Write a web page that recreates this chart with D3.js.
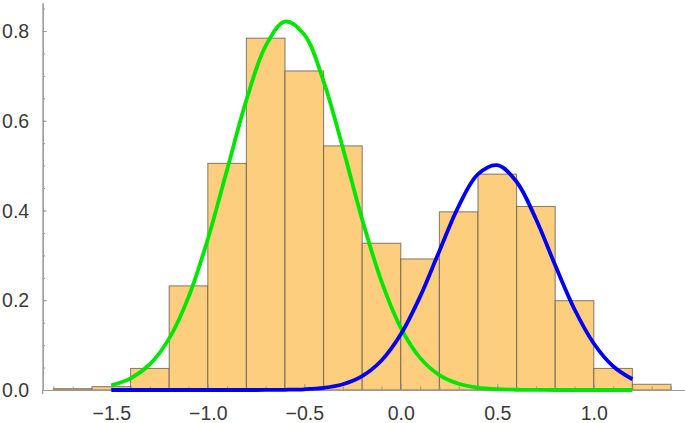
<!DOCTYPE html>
<html>
<head>
<meta charset="utf-8">
<script src="https://cdn.jsdelivr.net/npm/d3@7"></script>
<style>
  body { margin: 0; background: #fff; }
  .tick text { font-family: "Liberation Sans", Arial, sans-serif; font-size: 19.5px; fill: #3a3a3a; }
</style>
</head>
<body>
<div id="chart"></div>
<script>
// histogram bins (left edge, width 0.2) and heights
var binStart = [-1.8, -1.6, -1.4, -1.2, -1.0, -0.8, -0.6, -0.4, -0.2, 0.0, 0.2, 0.4, 0.6, 0.8, 1.0, 1.2];
var binHeight = [0.003, 0.0075, 0.048, 0.232, 0.505, 0.784, 0.711, 0.544, 0.327, 0.292, 0.397, 0.481, 0.409, 0.199, 0.048, 0.0127];
var binWidth = 0.2;

// curve samples
var curveX = [-1.5, -1.4, -1.3, -1.2, -1.1, -1.0, -0.9, -0.8, -0.7, -0.6, -0.5, -0.4, -0.3, -0.2, -0.1,
  0.0, 0.1, 0.2, 0.3, 0.4, 0.5, 0.6, 0.7, 0.8, 0.9, 1.0, 1.1, 1.2];
var greenY = [0.0105, 0.026, 0.0575, 0.115, 0.207, 0.336, 0.491, 0.646, 0.767, 0.821, 0.792, 0.688, 0.539, 0.380, 0.242,
  0.1385, 0.0716, 0.0333, 0.014, 0.0053, 0.0018, 0.0006, 0.0002, 0, 0, 0, 0, 0];
var blueY = [0, 0, 0, 0, 0, 0, 0, 0, 0.0001, 0.0005, 0.0016, 0.0048, 0.0129, 0.0308, 0.0656,
  0.124, 0.208, 0.310, 0.410, 0.481, 0.501, 0.464, 0.381, 0.278, 0.180, 0.1037, 0.053, 0.024];

var xMajor = [-1.5, -1.0, -0.5, 0.0, 0.5, 1.0];
var xMinor = d3.range(-18, 15).map(function(i) { return i / 10; });
var yMajor = [0.0, 0.2, 0.4, 0.6, 0.8];
var yMinor = d3.range(0, 18).map(function(i) { return i * 0.05; });

var width = 685;
var height = 423;

var svg = d3.select("#chart")
  .append("svg")
  .attr("width", width)
  .attr("height", height);

var xScale = d3.scaleLinear()
  .domain([-1.8554, 1.4725])
  .range([42.7, 685]);

var yScale = d3.scaleLinear()
  .domain([0, 0.8624])
  .range([390, 3]);

// bars
svg.append("g")
  .selectAll("rect")
  .data(binStart)
  .enter()
  .append("rect")
  .attr("x", function(d) { return xScale(d); })
  .attr("y", function(d, i) { return yScale(binHeight[i]); })
  .attr("width", function(d) { return xScale(d + binWidth) - xScale(d); })
  .attr("height", function(d, i) { return yScale(0) - yScale(binHeight[i]); })
  .attr("fill", "#fcce7e")
  .attr("stroke", "#5e564d")
  .attr("stroke-opacity", 0.7)
  .attr("stroke-width", 1.1);

// axes
var xAxis = d3.axisBottom(xScale)
  .tickValues(xMajor)
  .tickFormat(d3.format(".1f"))
  .tickSizeInner(-6)
  .tickSizeOuter(0)
  .tickPadding(16);

var xMinorAxis = d3.axisBottom(xScale)
  .tickValues(xMinor)
  .tickFormat("")
  .tickSizeInner(-3.5)
  .tickSizeOuter(0);

var yAxis = d3.axisLeft(yScale)
  .tickValues(yMajor)
  .tickFormat(d3.format(".1f"))
  .tickSizeInner(-4)
  .tickSizeOuter(0)
  .tickPadding(13.5);

var yMinorAxis = d3.axisLeft(yScale)
  .tickValues(yMinor)
  .tickFormat("")
  .tickSizeInner(-2.5)
  .tickSizeOuter(0);

var axisColor = "#9a9a9a";

[xMinorAxis, xAxis].forEach(function(a) {
  var g = svg.append("g")
    .attr("transform", "translate(0," + yScale(0) + ")")
    .call(a);
  g.select(".domain").attr("stroke", axisColor).attr("stroke-width", 1.2);
  g.selectAll(".tick line").attr("stroke", axisColor);
});

[yMinorAxis, yAxis].forEach(function(a) {
  var g = svg.append("g")
    .attr("transform", "translate(" + xScale.range()[0] + ",0)")
    .call(a);
  g.select(".domain").attr("stroke", axisColor).attr("stroke-width", 1.2);
  g.selectAll(".tick line").attr("stroke", axisColor);
  g.selectAll(".tick text").attr("dy", "0.34em");
});

// little overhang of the y axis below the x axis
svg.append("line")
  .attr("x1", xScale.range()[0])
  .attr("x2", xScale.range()[0])
  .attr("y1", yScale(0))
  .attr("y2", yScale(0) + 4)
  .attr("stroke", axisColor)
  .attr("stroke-width", 1.2);

// curves
var line = d3.line()
  .x(function(d) { return xScale(d[0]); })
  .y(function(d) { return yScale(d[1]); })
  .curve(d3.curveCatmullRom.alpha(0.5));

svg.append("path")
  .datum(d3.zip(curveX, greenY))
  .attr("d", line)
  .attr("fill", "none")
  .attr("stroke", "#00e600")
  .attr("stroke-width", 3.8);

svg.append("path")
  .datum(d3.zip(curveX, blueY))
  .attr("d", line)
  .attr("fill", "none")
  .attr("stroke", "#0000f0")
  .attr("stroke-width", 3.8);
</script>
</body>
</html>
